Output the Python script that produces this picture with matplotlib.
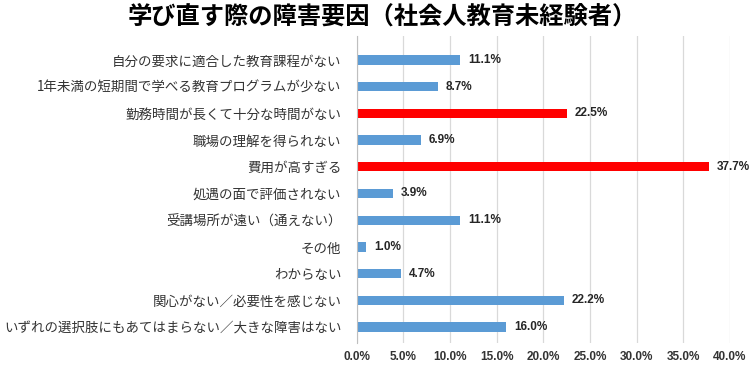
import numpy as np
import matplotlib
matplotlib.use("Agg")
import matplotlib.pyplot as plt
from matplotlib import font_manager

plt.rcParams['font.family'] = ['Noto Sans CJK JP', 'DejaVu Sans']

labels = [
    '自分の要求に適合した教育課程がない',
    '1年未満の短期間で学べる教育プログラムが少ない',
    '勤務時間が長くて十分な時間がない',
    '職場の理解を得られない',
    '費用が高すぎる',
    '処遇の面で評価されない',
    '受講場所が遠い（通えない）',
    'その他',
    'わからない',
    '関心がない／必要性を感じない',
    'いずれの選択肢にもあてはまらない／大きな障害はない',
]
values = [11.1, 8.7, 22.5, 6.9, 37.7, 3.9, 11.1, 1.0, 4.7, 22.2, 16.0]
highlight = [2, 4]
xticks = [0, 5, 10, 15, 20, 25, 30, 35, 40]

# narrow font for the numbers if it exists
names = {f.name for f in font_manager.fontManager.ttflist}
num_font = 'Liberation Sans Narrow' if 'Liberation Sans Narrow' in names else 'Liberation Sans'

colors = ['#FF0000' if i in highlight else '#5B9BD5' for i in range(len(values))]

fig = plt.figure(figsize=(7.5, 3.65), dpi=100)
ax = fig.add_axes([0.4756, 0.0603, 0.4977, 0.8411])

y = np.arange(len(values))
ax.barh(y, values, height=0.35, color=colors, zorder=3)
for yi, v in zip(y, values):
    ax.text(v + 0.85, yi, f'{v:.1f}%', va='center', ha='left', fontsize=8.5,
            fontweight='bold', color='#262626', family=num_font)

ax.set_ylim(10.6, -0.9)
ax.set_xlim(0, 40)
ax.set_yticks(y)
ax.set_yticklabels(labels, fontsize=9.7, color='#333333')
ax.set_xticks(xticks)
ax.set_xticklabels([f'{t:.1f}%' for t in xticks], fontsize=8.5, color='#333333',
                   family=num_font, fontweight='bold')
ax.tick_params(axis='both', length=0)
ax.tick_params(axis='y', pad=11)
ax.tick_params(axis='x', pad=6)
ax.grid(axis='x', color='#D9D9D9', linewidth=0.9, zorder=0)
for s in ['top', 'right', 'bottom']:
    ax.spines[s].set_visible(False)
ax.spines['left'].set_color('#BFBFBF')
ax.spines['left'].set_zorder(4)

fig.text(0.51, 0.953, '学び直す際の障害要因（社会人教育未経験者）', ha='center', va='center',
         fontsize=17.5, fontweight='bold', color='#000000')

fig.savefig('out.png', dpi=100)
